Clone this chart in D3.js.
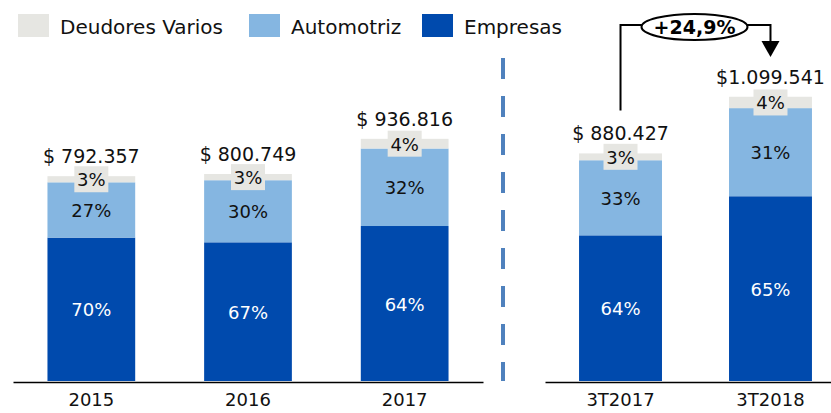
<!DOCTYPE html>
<html>
<head>
<meta charset="utf-8">
<script src="https://cdn.jsdelivr.net/npm/d3@7"></script>
<style>
  body { margin: 0; background: #fff; }
  text { font-family: "DejaVu Sans", sans-serif; }
</style>
</head>
<body>
<div id="chart"></div>
<script>
var width = 831;
var height = 413;

// data
var leftCats = ["2015", "2016", "2017"];
var rightCats = ["3T2017", "3T2018"];
var totals = [792357, 800749, 936816, 880427, 1099541];
var totalLabels = ["$ 792.357", "$ 800.749", "$ 936.816", "$ 880.427", "$1.099.541"];
var empresas = [70, 67, 64, 64, 65];
var automotriz = [27, 30, 32, 33, 31];
var deudores = [3, 3, 4, 3, 4];
var seriesNames = ["Deudores Varios", "Automotriz", "Empresas"];
var growthLabel = "+24,9%";

var colors = { "Empresas": "#004aad", "Automotriz": "#85b6e1", "Deudores Varios": "#e6e6e2" };

var baseY = 381;

var svg = d3.select("#chart").append("svg")
  .attr("width", width)
  .attr("height", height);

var y = d3.scaleLinear().domain([0, 1470000]).range([baseY, 1]);

var xLeft = d3.scaleBand().domain(leftCats).range([13, 483]).paddingInner(0.44).paddingOuter(0.22);
var xRight = d3.scaleBand().domain(rightCats).range([545, 846]).paddingInner(0.447).paddingOuter(0.227);

var allCats = leftCats.concat(rightCats);
function xOf(i) {
  return i < 3 ? xLeft(allCats[i]) : xRight(allCats[i]);
}
function bwOf(i) {
  return i < 3 ? xLeft.bandwidth() : xRight.bandwidth();
}

var rows = allCats.map(function(c, i) {
  return { cat: c, i: i, total: totals[i], label: totalLabels[i],
    Empresas: empresas[i], Automotriz: automotriz[i], "Deudores Varios": deudores[i] };
});

// stacked segments
var stackOrder = ["Empresas", "Automotriz", "Deudores Varios"];
rows.forEach(function(d) {
  var acc = 0;
  d.segs = stackOrder.map(function(k) {
    var v0 = d.total * acc / 100;
    acc += d[k];
    var v1 = d.total * acc / 100;
    return { key: k, pct: d[k], v0: v0, v1: v1 };
  });
});

var barG = svg.selectAll("g.bar").data(rows).enter().append("g").attr("class", "bar");

barG.selectAll("rect").data(function(d) { return d.segs.map(function(s) { s.i = d.i; return s; }); })
  .enter().append("rect")
  .attr("x", function(s) { return xOf(s.i); })
  .attr("width", function(s) { return bwOf(s.i); })
  .attr("y", function(s) { return y(s.v1); })
  .attr("height", function(s) { return y(s.v0) - y(s.v1); })
  .attr("fill", function(s) { return colors[s.key]; });

// axis lines + labels
var axisL = svg.append("g").attr("transform", "translate(0," + (baseY + 1) + ")")
  .call(d3.axisBottom(xLeft).tickSize(0).tickPadding(11));
var axisR = svg.append("g").attr("transform", "translate(0," + (baseY + 1) + ")")
  .call(d3.axisBottom(xRight).tickSize(0).tickPadding(11));
[axisL, axisR].forEach(function(a) {
  a.select(".domain").attr("stroke", "#000").attr("stroke-width", 1.6);
  a.selectAll("text").attr("font-size", 18).attr("fill", "#111")
    .style("font-family", "DejaVu Sans, sans-serif");
});

// segment labels
barG.each(function(d) {
  var g = d3.select(this);
  var cx = xOf(d.i) + bwOf(d.i) / 2;
  d.segs.forEach(function(s) {
    var cy = (y(s.v0) + y(s.v1)) / 2;
    if (s.key === "Deudores Varios") {
      g.append("rect")
        .attr("x", cx - 17).attr("y", cy - 13)
        .attr("width", 34).attr("height", 26)
        .attr("fill", colors[s.key]);
      g.append("text")
        .attr("x", cx).attr("y", cy + 7)
        .attr("text-anchor", "middle")
        .attr("font-size", 18).attr("fill", "#111")
        .text(s.pct + "%");
    } else {
      g.append("text")
        .attr("x", cx).attr("y", cy + 7)
        .attr("text-anchor", "middle")
        .attr("font-size", 18)
        .attr("fill", s.key === "Empresas" ? "#fff" : "#111")
        .text(s.pct + "%");
    }
  });
  g.append("text")
    .attr("x", cx).attr("y", y(d.total) - 13)
    .attr("text-anchor", "middle")
    .attr("font-size", 19).attr("fill", "#111")
    .text(d.label);
});

// dashed separator
svg.append("line")
  .attr("x1", 503).attr("x2", 503)
  .attr("y1", 58).attr("y2", 381)
  .attr("stroke", "#4f81bd").attr("stroke-width", 4)
  .attr("stroke-dasharray", "21,17");

// legend
var legendX = [18, 249, 422];
var legend = svg.selectAll("g.legend").data(seriesNames).enter().append("g")
  .attr("transform", function(d, i) { return "translate(" + legendX[i] + ",14)"; });
legend.append("rect").attr("width", 31).attr("height", 23)
  .attr("fill", function(d) { return colors[d]; });
legend.append("text").attr("x", 42).attr("y", 20)
  .attr("font-size", 20).attr("fill", "#111")
  .text(function(d) { return d; });

// growth arrow
var ax1 = xRight("3T2017") + xRight.bandwidth() / 2;
var ax2 = xRight("3T2018") + xRight.bandwidth() / 2;
var lineY = 25;
var ecx = (ax1 + ax2) / 2 - 1;
svg.append("path")
  .attr("d", "M" + ax1 + "," + (y(totals[3]) - 43) + "V" + lineY + "H" + (ecx - 52)
    + "M" + (ecx + 52) + "," + lineY + "H" + ax2 + "V" + 42)
  .attr("fill", "none").attr("stroke", "#000").attr("stroke-width", 2);
svg.append("path")
  .attr("d", "M" + (ax2 - 9) + ",41L" + (ax2 + 9) + ",41L" + ax2 + ",57Z")
  .attr("fill", "#000");
svg.append("ellipse")
  .attr("cx", ecx).attr("cy", 27).attr("rx", 53).attr("ry", 13)
  .attr("fill", "#fff").attr("stroke", "#000").attr("stroke-width", 2);
svg.append("text")
  .attr("x", ecx).attr("y", 34)
  .attr("text-anchor", "middle")
  .attr("font-size", 19).attr("font-weight", "bold").attr("fill", "#000")
  .text(growthLabel);
</script>
</body>
</html>
